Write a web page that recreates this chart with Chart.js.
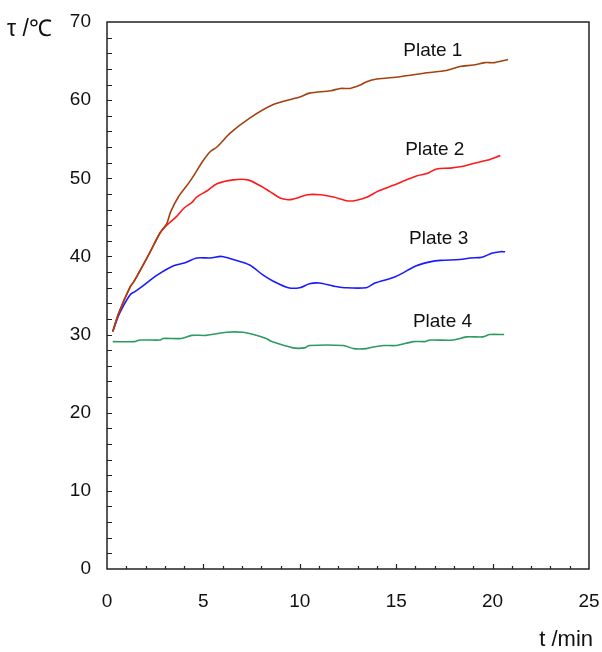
<!DOCTYPE html>
<html>
<head>
<meta charset="utf-8">
<script src="https://cdn.jsdelivr.net/npm/chart.js@4/dist/chart.umd.min.js"></script>
<style>
  html, body { margin: 0; padding: 0; background: #fff; }
  #wrap { width: 602px; height: 652px; }
</style>
</head>
<body>
<div id="wrap"><canvas id="chart"></canvas></div>
<script>
// t (min), tau (degC)
var plate1T = [0.3, 0.6, 1.2, 1.4, 2.2, 2.75, 3.1, 3.3, 3.7, 4.3, 5.0, 5.35, 5.7, 6.4, 7.4, 8.6, 9.7, 10.0, 10.5, 11.6, 12.1, 12.6, 13.1, 13.5, 14.0, 15.2, 16.6, 17.6, 18.3, 19.0, 19.6, 20.1, 20.8];
var plate1V = [30.4, 32.7, 36.1, 36.8, 40.4, 43.0, 44.2, 45.7, 47.6, 49.6, 52.3, 53.4, 54.0, 55.8, 57.7, 59.4, 60.2, 60.4, 60.9, 61.2, 61.5, 61.5, 61.9, 62.4, 62.7, 63.0, 63.5, 63.8, 64.3, 64.5, 64.8, 64.8, 65.2];

var plate2T = [0.3, 0.6, 1.2, 1.4, 2.2, 2.75, 3.1, 3.6, 4.0, 4.4, 4.65, 5.2, 5.7, 6.55, 7.3, 7.9, 8.45, 9.05, 9.6, 10.4, 11.05, 11.75, 12.5, 12.95, 13.5, 14.1, 14.85, 16.05, 16.6, 17.1, 17.8, 18.4, 19.0, 19.7, 20.4];
var plate2V = [30.4, 32.7, 36.1, 36.8, 40.4, 43.0, 44.0, 45.1, 46.2, 46.9, 47.6, 48.4, 49.3, 49.8, 49.8, 49.1, 48.3, 47.4, 47.3, 47.9, 47.9, 47.6, 47.1, 47.2, 47.6, 48.4, 49.1, 50.3, 50.6, 51.2, 51.3, 51.5, 51.9, 52.3, 52.9];

var plate3T = [0.3, 0.65, 1.2, 1.45, 1.9, 2.6, 3.45, 4.05, 4.65, 5.35, 5.95, 6.55, 7.4, 8.1, 8.65, 9.4, 10.0, 10.5, 11.0, 11.75, 12.3, 13.45, 13.9, 14.95, 16.05, 16.75, 17.3, 18.3, 18.85, 19.45, 19.95, 20.4, 20.65];
var plate3V = [30.4, 32.7, 35.1, 35.5, 36.3, 37.6, 38.8, 39.2, 39.8, 39.8, 40.0, 39.6, 38.9, 37.6, 36.8, 36.0, 36.0, 36.5, 36.6, 36.2, 36.0, 36.0, 36.6, 37.4, 38.8, 39.3, 39.5, 39.6, 39.8, 39.9, 40.4, 40.6, 40.6];

var plate4T = [0.3, 1.45, 1.7, 2.75, 2.9, 3.85, 4.4, 5.15, 6.2, 7.05, 7.6, 8.25, 8.55, 9.65, 10.25, 10.5, 12.25, 12.8, 13.45, 13.8, 14.35, 15.0, 15.9, 16.5, 16.75, 17.95, 18.65, 19.5, 19.85, 20.6];
var plate4V = [29.1, 29.1, 29.3, 29.3, 29.5, 29.5, 29.9, 29.9, 30.3, 30.3, 30.0, 29.5, 29.1, 28.3, 28.3, 28.6, 28.6, 28.2, 28.2, 28.4, 28.6, 28.6, 29.1, 29.1, 29.3, 29.3, 29.7, 29.7, 30.0, 30.0];

var plateNames = ['Plate 1', 'Plate 2', 'Plate 3', 'Plate 4'];
var plateColors = ['#a3410f', '#ff1a1a', '#1a1aff', '#2e9a62'];
// where the plate names sit (t, tau)
var labelT = [16.9, 17.0, 17.2, 17.4];
var labelV = [66.3, 53.7, 42.2, 31.6];

var xTicks = [0, 5, 10, 15, 20, 25];
var yTicks = [0, 10, 20, 30, 40, 50, 60, 70];

function pts(ts, vs) {
    return ts.map(function(t, i) { return { x: t, y: vs[i] }; });
}

var allT = [plate1T, plate2T, plate3T, plate4T];
var allV = [plate1V, plate2V, plate3V, plate4V];

var datasets = allT.map(function(ts, i) {
    return {
        label: plateNames[i],
        data: pts(ts, allV[i]),
        borderColor: plateColors[i],
        borderWidth: 1.6,
        pointRadius: 0,
        tension: 0.3,
        fill: false
    };
});

var FONT = '"Liberation Sans", Arial, sans-serif';

// box, inward ticks, plate names and axis titles
var decor = {
    id: 'decor',
    afterDraw: function(chart) {
        var ctx = chart.ctx;
        var a = chart.chartArea;
        var xs = chart.scales.x, ys = chart.scales.y;
        ctx.save();
        ctx.strokeStyle = '#222';
        ctx.lineWidth = 1.5;
        ctx.strokeRect(a.left, a.top, a.right - a.left, a.bottom - a.top);

        ctx.lineWidth = 1.2;
        ctx.beginPath();
        for (var v = 2; v < 70; v += 2) {
            var py = Math.round(ys.getPixelForValue(v)) + 0.5;
            ctx.moveTo(a.left, py);
            ctx.lineTo(a.left + 5, py);
        }
        for (var t = 1; t < 25; t++) {
            var px = Math.round(xs.getPixelForValue(t)) + 0.5;
            ctx.moveTo(px, a.bottom);
            ctx.lineTo(px, a.bottom - (t % 5 === 0 ? 5 : 3));
        }
        ctx.stroke();

        ctx.fillStyle = '#111';
        ctx.font = '19px ' + FONT;
        ctx.textAlign = 'center';
        ctx.textBaseline = 'middle';
        plateNames.forEach(function(n, i) {
            ctx.fillText(n, xs.getPixelForValue(labelT[i]), ys.getPixelForValue(labelV[i]));
        });

        ctx.font = '23px ' + FONT;
        ctx.textAlign = 'left';
        ctx.fillText('\u03c4 /\u2103', 7, 30);
        ctx.font = '22px ' + FONT;
        ctx.textAlign = 'right';
        ctx.fillText('t /min', 593, 640);
        ctx.restore();
    }
};

new Chart(document.getElementById('chart'), {
    type: 'line',
    data: { datasets: datasets },
    options: {
        responsive: true,
        maintainAspectRatio: false,
        animation: false,
        layout: { padding: { top: 22, right: 13, left: 0, bottom: 0 } },
        plugins: { legend: { display: false }, tooltip: { enabled: false } },
        scales: {
            x: {
                type: 'linear',
                min: 0, max: 25,
                afterBuildTicks: function(s) { s.ticks = xTicks.map(function(v) { return { value: v }; }); },
                afterFit: function(s) { s.height = 83; s.paddingLeft = 0; s.paddingRight = 0; },
                grid: { display: false, drawTicks: false },
                border: { display: false },
                ticks: { color: '#111', padding: 21, font: { size: 19, family: FONT }, maxRotation: 0 }
            },
            y: {
                min: 0, max: 70,
                afterBuildTicks: function(s) { s.ticks = yTicks.map(function(v) { return { value: v }; }); },
                afterFit: function(s) { s.width = 107; s.paddingTop = 0; s.paddingBottom = 0; },
                grid: { display: false, drawTicks: false },
                border: { display: false },
                ticks: { color: '#111', padding: 16, font: { size: 19, family: FONT } }
            }
        }
    },
    plugins: [decor]
});
</script>
</body>
</html>
